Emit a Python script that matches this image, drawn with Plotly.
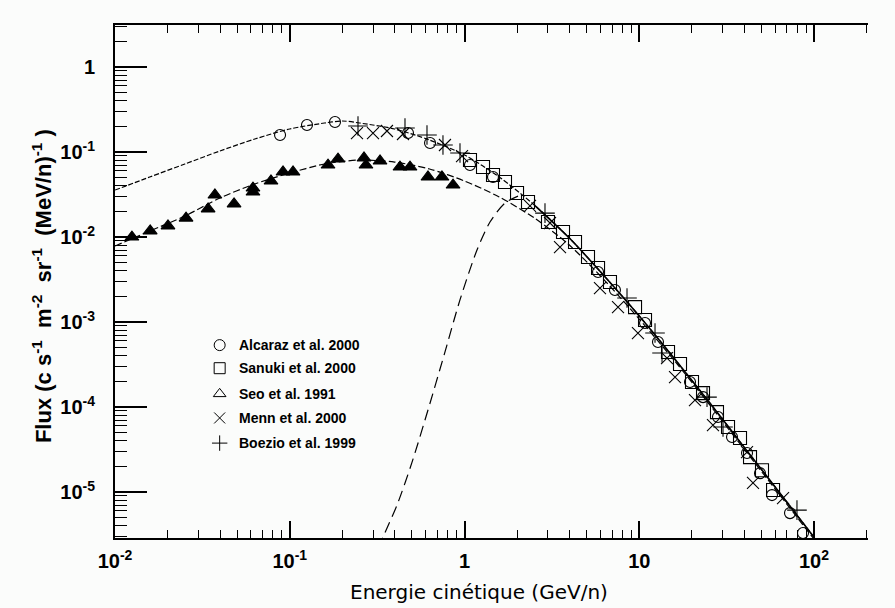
import plotly.graph_objects as go

# ---- model curves: kinetic energy grid (GeV/n) and fluxes ----
curve_energy = [0.01, 0.0158, 0.0251, 0.0398, 0.0631, 0.1, 0.158, 0.2, 0.251,
                0.398, 0.631, 1.0, 1.58, 2.51, 3.98, 6.31, 10.0, 15.8, 25.1,
                39.8, 63.1, 100.0]
total_flux = [0.0357, 0.0508, 0.0723, 0.1028, 0.1422, 0.1866, 0.2193, 0.2317,
              0.2193, 0.1866, 0.1384, 0.0923, 0.0508, 0.02377, 0.00973,
              0.003475, 0.001178, 3.77e-4, 1.146e-4, 3.38e-5, 1.0e-5, 2.95e-6]
modulated_flux = [0.00783, 0.01178, 0.01766, 0.02877, 0.0421, 0.0566, 0.0723,
                  0.0773, 0.0805, 0.0762, 0.0631, 0.0456, 0.0296, 0.01675,
                  0.00805, 0.00312, 0.001084, 3.57e-4, 1.084e-4, 3.21e-5,
                  9.46e-6, 2.8e-6]

# steep secondary component
secondary_energy = [0.324, 0.342, 0.411, 0.501, 0.618, 0.764, 0.942, 1.179,
                    1.399, 1.705, 2.024]
secondary_flux = [2.19e-6, 2.96e-6, 7.03e-6, 2.25e-5, 9.23e-5, 4.09e-4,
                  1.82e-3, 7.03e-3, 0.0150, 0.0251, 0.0303]

# ---- measurements ----
alcaraz_e = [0.088, 0.1255, 0.1815, 0.475, 0.635, 1.075, 1.456, 5.81, 7.26,
             10.79, 12.80, 19.52, 23.17, 28.22, 33.95, 41.37, 49.09, 57.5,
             72.9, 86.5]
alcaraz_f = [0.1585, 0.2078, 0.2254, 0.1673, 0.1276, 0.0703, 0.0508, 0.00388,
             0.00238, 9.73e-4, 5.82e-4, 1.97e-4, 1.31e-4, 7.63e-5, 4.44e-5,
             2.88e-5, 1.67e-5, 9.22e-6, 5.66e-6, 3.30e-6]

sanuki_e = [1.075, 1.276, 1.456, 1.705, 1.998, 2.309, 3.005, 3.662, 4.29,
            5.09, 5.81, 6.80, 9.46, 10.79, 14.61, 17.11, 20.04, 23.17, 27.85,
            32.21, 37.72, 43.04, 50.4, 58.3]
sanuki_f = [0.0805, 0.0666, 0.0536, 0.0444, 0.0330, 0.0258, 0.0150, 0.01145,
            0.00873, 0.00582, 0.00432, 0.00296, 0.00150, 0.001056, 4.44e-4,
            3.21e-4, 1.97e-4, 1.46e-4, 8.73e-5, 5.82e-5, 4.32e-5, 2.58e-5,
            1.81e-5, 1.06e-5]

seo_e = [0.0125, 0.0159, 0.0201, 0.0255, 0.0341, 0.0373, 0.0480, 0.0616,
         0.0616, 0.0781, 0.0915, 0.1044, 0.1656, 0.1889, 0.266, 0.273, 0.3285,
         0.4274, 0.4877, 0.618, 0.743, 0.860]
seo_f = [0.0100, 0.0118, 0.0135, 0.0167, 0.0214, 0.0312, 0.0245, 0.0377,
         0.0338, 0.0456, 0.0582, 0.0582, 0.0703, 0.0827, 0.0850, 0.0703,
         0.0784, 0.0666, 0.0666, 0.0508, 0.0508, 0.0409]

menn_e = [0.2425, 0.2995, 0.360, 0.4446, 0.773, 0.968, 2.37, 3.085, 3.52,
          5.96, 7.56, 9.83, 14.42, 16.02, 20.84, 26.42, 41.37, 44.77, 66.5]
menn_f = [0.1673, 0.1673, 0.1767, 0.1629, 0.1209, 0.0897, 0.0232, 0.01462,
          0.00762, 0.00251, 0.0015, 7.43e-4, 3.77e-4, 2.25e-4, 1.21e-4,
          6.14e-5, 2.96e-5, 1.28e-5, 8.5e-6]

boezio_e = [0.2458, 0.4565, 0.610, 0.753, 0.9423, 2.888, 8.51, 12.31, 13.50,
            24.42, 30.15, 79.9]
boezio_f = [0.2023, 0.1915, 0.1585, 0.1209, 0.0973, 0.0191, 0.00192, 7.43e-4,
            4.32e-4, 1.31e-4, 5.82e-5, 6.14e-6]

legend_labels = ["Alcaraz et al. 2000", "Sanuki et al. 2000", "Seo et al. 1991",
                 "Menn et al. 2000", "Boezio et al. 1999"]
legend_symbols = ["circle-open", "square-open", "triangle-up-open",
                  "x-thin-open", "cross-thin-open"]

x_tickvals = [0.01, 0.1, 1, 10, 100]
x_ticktext = ["10<sup>-2</sup>", "10<sup>-1</sup>", "1", "10", "10<sup>2</sup>"]
y_tickvals = [1e-5, 1e-4, 1e-3, 1e-2, 1e-1, 1]
y_ticktext = ["10<sup>-5</sup>", "10<sup>-4</sup>", "10<sup>-3</sup>",
              "10<sup>-2</sup>", "10<sup>-1</sup>", "1"]

INK = "black"
BG = "#fbfcfb"


def minor_values(lo, hi):
    vals = []
    for p in range(lo, hi):
        for k in range(2, 10):
            vals.append(k * 10.0 ** p)
    return vals


fig = go.Figure()

# model curves
fig.add_trace(go.Scatter(x=curve_energy, y=total_flux, mode="lines",
                         line=dict(color=INK, width=1.2, dash="5px,2px",
                                   shape="spline", smoothing=0.8),
                         showlegend=False))
fig.add_trace(go.Scatter(x=curve_energy, y=modulated_flux, mode="lines",
                         line=dict(color=INK, width=1.2, dash="7px,3px",
                                   shape="spline", smoothing=0.8),
                         showlegend=False))
hi = [i for i, e in enumerate(curve_energy) if e >= 2.5]
fig.add_trace(go.Scatter(x=[curve_energy[i] for i in hi],
                         y=[total_flux[i] for i in hi], mode="lines",
                         line=dict(color=INK, width=1.6, shape="spline",
                                   smoothing=0.8),
                         showlegend=False))
fig.add_trace(go.Scatter(x=secondary_energy, y=secondary_flux, mode="lines",
                         line=dict(color=INK, width=1.2, dash="11px,6px",
                                   shape="spline", smoothing=0.8),
                         showlegend=False))

# measurements
series = [
    (alcaraz_e, alcaraz_f, "circle-open", 11),
    (sanuki_e, sanuki_f, "square-open", 13),
    (seo_e, seo_f, "triangle-up", 12),
    (menn_e, menn_f, "x-thin-open", 12),
    (boezio_e, boezio_f, "cross-thin-open", 14),
]
for ex, fy, sym, size in series:
    fig.add_trace(go.Scatter(
        x=ex, y=fy, mode="markers", showlegend=False,
        marker=dict(symbol=sym, size=size, color=INK,
                    line=dict(color=INK, width=1.1))))

# hand-drawn legend on a unit overlay axis
leg_x = 0.139
leg_rows = [0.376, 0.331, 0.281, 0.234, 0.185]
fig.add_trace(go.Scatter(
    x=[leg_x] * len(leg_rows), y=leg_rows, mode="markers",
    xaxis="x3", yaxis="y3", showlegend=False,
    marker=dict(symbol=legend_symbols, size=11, color=INK,
                line=dict(color=INK, width=1))))
for label, yy in zip(legend_labels, leg_rows):
    fig.add_annotation(x=0.162, y=yy, xref="paper", yref="paper",
                       text="<b>" + label + "</b>", showarrow=False,
                       xanchor="left", yanchor="middle",
                       font=dict(family="Liberation Sans", size=14, color=INK))

tick_font = dict(family="Liberation Sans", size=20, color=INK, weight=700)

fig.update_layout(
    width=895, height=608,
    margin=dict(l=115, r=27, t=25, b=70),
    paper_bgcolor=BG, plot_bgcolor=BG,
    showlegend=False,
    xaxis=dict(type="log", range=[-2, 2.309],
               tickvals=x_tickvals, ticktext=x_ticktext,
               ticks="inside", ticklen=17, tickwidth=1.5, tickcolor=INK,
               minor=dict(tickvals=minor_values(-2, 3), ticks="inside",
                          ticklen=8, tickwidth=1.3, tickcolor=INK),
               showline=True, linewidth=2, linecolor=INK,
               mirror="allticks", showgrid=False, zeroline=False,
               tickfont=tick_font, ticklabelstandoff=4),
    yaxis=dict(type="log", range=[-5.54, 0.494],
               tickvals=y_tickvals, ticktext=y_ticktext,
               ticks="inside", ticklen=32, tickwidth=1.5, tickcolor=INK,
               minor=dict(tickvals=minor_values(-6, 1), ticks="inside",
                          ticklen=12, tickwidth=1.3, tickcolor=INK),
               showline=True, linewidth=2, linecolor=INK,
               mirror=False, showgrid=False, zeroline=False,
               tickfont=tick_font, ticklabelstandoff=14),
    yaxis2=dict(type="log", range=[-5.54, 0.494], overlaying="y",
                side="right", anchor="x",
                tickvals=y_tickvals, showticklabels=False,
                ticks="inside", ticklen=16, tickwidth=1.5, tickcolor=INK,
                minor=dict(tickvals=minor_values(-6, 1), ticks="inside",
                           ticklen=8, tickwidth=1.3, tickcolor=INK),
                showline=True, linewidth=2, linecolor=INK,
                showgrid=False, zeroline=False),
    xaxis3=dict(range=[0, 1], overlaying="x", visible=False, anchor="y3"),
    yaxis3=dict(range=[0, 1], overlaying="y", visible=False, anchor="x3"),
)

fig.add_annotation(x=0.4834, y=-0.105, xref="paper", yref="paper",
                   text="Energie cinétique (GeV/n)", showarrow=False,
                   xanchor="center", yanchor="middle",
                   font=dict(family="DejaVu Sans", size=20, color=INK))
fig.add_annotation(x=-0.097, y=0.491, xref="paper", yref="paper",
                   text="<b>Flux&nbsp;(c s<sup>-1</sup>&nbsp; m<sup>-2</sup>&nbsp;"
                        " sr<sup>-1</sup>&nbsp; (MeV/n)<sup>-1</sup>&nbsp;)</b>",
                   showarrow=False, textangle=-90,
                   xanchor="center", yanchor="middle",
                   font=dict(family="Liberation Sans", size=22, color=INK))

fig.write_html("out.html")
